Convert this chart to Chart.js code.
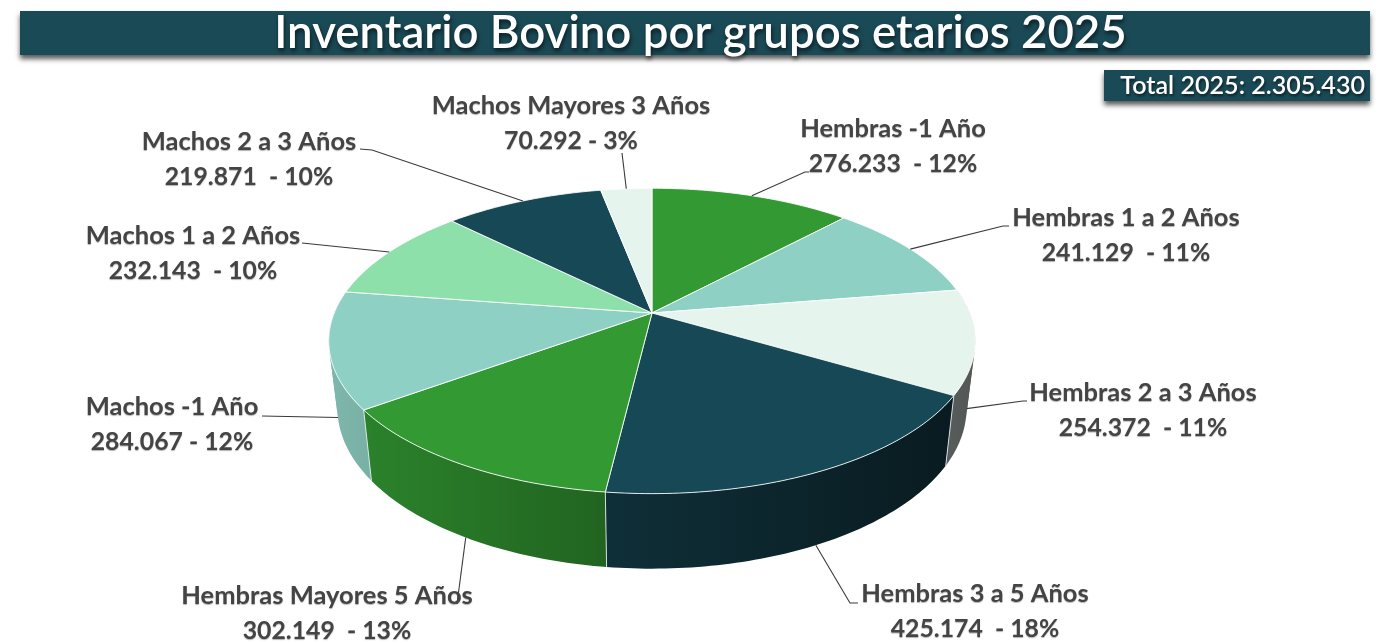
<!DOCTYPE html>
<html lang="es">
<head>
<meta charset="utf-8">
<title>Inventario Bovino por grupos etarios 2025</title>
<style>
html,body{margin:0;padding:0;background:#fff;overflow:hidden}
#wrap{width:1381px;height:643px;position:relative}
</style>
<script src="https://cdn.jsdelivr.net/npm/chart.js@4/dist/chart.umd.min.js"></script>
</head>
<body>
<div id="wrap"><canvas id="c" width="1381" height="643"></canvas></div>
<script>
// ---- data ----
const titleText = 'Inventario Bovino por grupos etarios 2025';
const totalText = 'Total 2025: 2.305.430';
const categories = ['Hembras -1 Año','Hembras 1 a 2 Años','Hembras 2 a 3 Años','Hembras 3 a 5 Años','Hembras Mayores 5 Años','Machos -1 Año','Machos 1 a 2 Años','Machos 2 a 3 Años','Machos Mayores 3 Años'];
const values = [276233,241129,254372,425174,302149,284067,232143,219871,70292];
const valueLabels = ['276.233  - 12%','241.129  - 11%','254.372  - 11%','425.174  - 18%','302.149  - 13%','284.067 - 12%','232.143  - 10%','219.871  - 10%','70.292 - 3%'];
const sliceColors = ['#339933','#8fd0c4','#e6f4ee','#174855','#339933','#8fd0c4','#8ee0aa','#174855','#e6f4ee'];

// ---- layout (label centres and leader-line bends, not data) ----
const labelCentres = [[893,129],[1126,218],[1143,393],[975,594],[327,596],[172,407],[193,236],[249,142],[571,106]];
const leaderBends = [
  [[805,172],[809,172]],
  [[1003,226],[1009,226]],
  [[1023,401],[1027,401]],
  [[850,603],[858,603]],
  [[457,604]],
  [[262,416]],
  [[302,243]],
  [[372,150],[360,149]],
  [[622,153]]
];
const frontFacing = [false,false,true,true,true,true,false,false,false];
const wallOrder = [2,5,3,4];

const FONT = 'Lato, Carlito, "Open Sans", sans-serif';
const PIE = {cx:652, cy:313, rx:318.5, ry:147.9, k:0.183, baseR:253.2, wallScale:0.973, wallY:1.05, wallDrop:66};

function project(arc, angle){
  const f = arc.outerRadius / PIE.baseR;
  const th = angle + Math.PI/2;
  const x = Math.sin(th), y = -Math.cos(th);
  const d = 1 - PIE.k*y;
  return {x: PIE.cx + f*PIE.rx*x/d, y: PIE.cy + f*PIE.ry*y/d};
}
function lower(p){
  return {x: PIE.cx + PIE.wallScale*(p.x-PIE.cx), y: PIE.cy + PIE.wallY*(p.y-PIE.cy) + PIE.wallDrop};
}
function sampleAngles(a0,a1){
  const n = Math.max(2, Math.ceil(Math.abs(a1-a0)/(Math.PI/180)));
  const out = [];
  for(let i=0;i<=n;i++) out.push(a0+(a1-a0)*i/n);
  return out;
}
function shade(hex,f){
  const n = parseInt(hex.slice(1),16);
  const c = [n>>16&255,n>>8&255,n&255].map(v=>Math.round(v*f));
  return `rgb(${c[0]},${c[1]},${c[2]})`;
}
function wallFactor(x){ return 0.87-(x-340)*(0.49/606); }
function quadSign(a,b,c,d){
  const pts=[a,b,c,d]; let s=0;
  for(let i=0;i<4;i++){const p=pts[i],q=pts[(i+1)%4]; s+=p.x*q.y-q.x*p.y;}
  return s>=0?1:-1;
}

// Slices keep the library's angles and colours; only the outline is projected.
Chart.ArcElement.prototype.draw = function(ctx){
  const o = this.options;
  ctx.save();
  ctx.beginPath();
  ctx.moveTo(PIE.cx, PIE.cy);
  sampleAngles(this.startAngle,this.endAngle).forEach(a=>{
    const p = project(this,a);
    ctx.lineTo(p.x,p.y);
  });
  ctx.closePath();
  ctx.fillStyle = o.backgroundColor;
  ctx.fill();
  ctx.lineWidth = o.borderWidth;
  ctx.strokeStyle = o.borderColor;
  ctx.lineJoin = 'round';
  ctx.stroke();
  ctx.restore();
};

const pie3d = {
  id:'pie3d',
  beforeDraw(chart){
    const ctx = chart.ctx;
    ctx.save();
    ctx.shadowColor='rgba(0,0,0,.65)'; ctx.shadowBlur=5; ctx.shadowOffsetX=0; ctx.shadowOffsetY=4;
    ctx.fillStyle='#1a4a56';
    ctx.fillRect(20,11,1350,44);
    ctx.fillRect(1104,70,266,31);
    ctx.restore();
    // the shadow stays on for the library's title, and is undone just below
    ctx.save();
    ctx.shadowColor='rgba(0,0,0,.6)'; ctx.shadowBlur=4; ctx.shadowOffsetX=1; ctx.shadowOffsetY=3;
  },
  beforeDatasetsDraw(chart){
    const ctx = chart.ctx;
    ctx.restore();
    const meta = chart.getDatasetMeta(0);
    // side wall: split where the strip folds at the silhouette, so the fold stays filled
    wallOrder.forEach(i=>{
      const arc = meta.data[i];
      const top = sampleAngles(arc.startAngle,arc.endAngle).map(a=>project(arc,a));
      const bot = top.map(lower);
      const xs = top.concat(bot).map(p=>p.x);
      const x0 = Math.min(...xs), x1 = Math.max(...xs);
      const g = ctx.createLinearGradient(x0,0,x1,0);
      g.addColorStop(0,shade(sliceColors[i],wallFactor(x0)));
      g.addColorStop(1,shade(sliceColors[i],wallFactor(x1)));
      ctx.fillStyle = g;
      let start = 0;
      for(let j=0;j<top.length-1;j++){
        const s = quadSign(top[j],top[j+1],bot[j+1],bot[j]);
        const nextS = j+2<top.length ? quadSign(top[j+1],top[j+2],bot[j+2],bot[j+1]) : null;
        if(s!==nextS){
          ctx.beginPath();
          for(let m=start;m<=j+1;m++) m===start?ctx.moveTo(top[m].x,top[m].y):ctx.lineTo(top[m].x,top[m].y);
          for(let m=j+1;m>=start;m--) ctx.lineTo(bot[m].x,bot[m].y);
          ctx.closePath();
          ctx.fill();
          start = j+1;
        }
      }
    });
    // seams between the walls
    meta.data.forEach((arc,i)=>{
      if(!frontFacing[i] || i===meta.data.length-1 || !frontFacing[i+1]) return;
      const p = project(arc,arc.endAngle), q = lower(p);
      ctx.beginPath(); ctx.moveTo(p.x,p.y); ctx.lineTo(q.x,q.y);
      ctx.lineWidth=1; ctx.strokeStyle='rgba(235,240,240,.85)'; ctx.stroke();
    });
  },
  afterDatasetsDraw(chart){
    const ctx = chart.ctx;
    const meta = chart.getDatasetMeta(0);
    // leader lines start at each slice's mid-angle on the rim
    ctx.save();
    ctx.lineWidth=1.1; ctx.strokeStyle='#3a3a3a';
    meta.data.forEach((arc,i)=>{
      const mid=(arc.startAngle+arc.endAngle)/2;
      let p=project(arc,mid);
      if(frontFacing[i]) p=lower(p);
      ctx.beginPath(); ctx.moveTo(p.x,p.y);
      leaderBends[i].forEach(b=>ctx.lineTo(b[0],b[1]));
      ctx.stroke();
    });
    ctx.restore();
    // category labels
    ctx.save();
    ctx.textAlign='center'; ctx.textBaseline='middle';
    ctx.fillStyle='#444444';
    ctx.shadowColor='rgba(0,0,0,.3)'; ctx.shadowBlur=1; ctx.shadowOffsetX=0; ctx.shadowOffsetY=1;
    categories.forEach((t,i)=>{
      const [x,y]=labelCentres[i];
      ctx.font='bold 25.5px '+FONT;
      ctx.fillText(t,x,y);
      ctx.font='bold 24.8px '+FONT;
      ctx.fillText(valueLabels[i],x,y+35);
    });
    ctx.restore();
    // total box
    ctx.save();
    ctx.textAlign='right'; ctx.textBaseline='middle';
    ctx.shadowColor='rgba(0,0,0,.6)'; ctx.shadowBlur=3; ctx.shadowOffsetX=1; ctx.shadowOffsetY=2;
    ctx.fillStyle='#ffffff';
    ctx.font='600 25.1px '+FONT;
    ctx.fillText(totalText,1365,86);
    ctx.restore();
  }
};

new Chart(document.getElementById('c'),{
  type:'pie',
  data:{labels:categories,datasets:[{data:values,backgroundColor:sliceColors,borderColor:'rgba(255,255,255,.85)',borderWidth:1}]},
  options:{
    responsive:false,
    animation:false,
    events:[],
    layout:{padding:{left:20,right:0,top:0,bottom:76}},
    plugins:{
      legend:{display:false},
      tooltip:{enabled:false},
      title:{display:true,text:titleText,color:'#ffffff',padding:{top:6,bottom:0},font:{family:FONT,size:45.6,weight:'600',lineHeight:1.2}}
    }
  },
  plugins:[pie3d]
});
</script>
</body>
</html>
